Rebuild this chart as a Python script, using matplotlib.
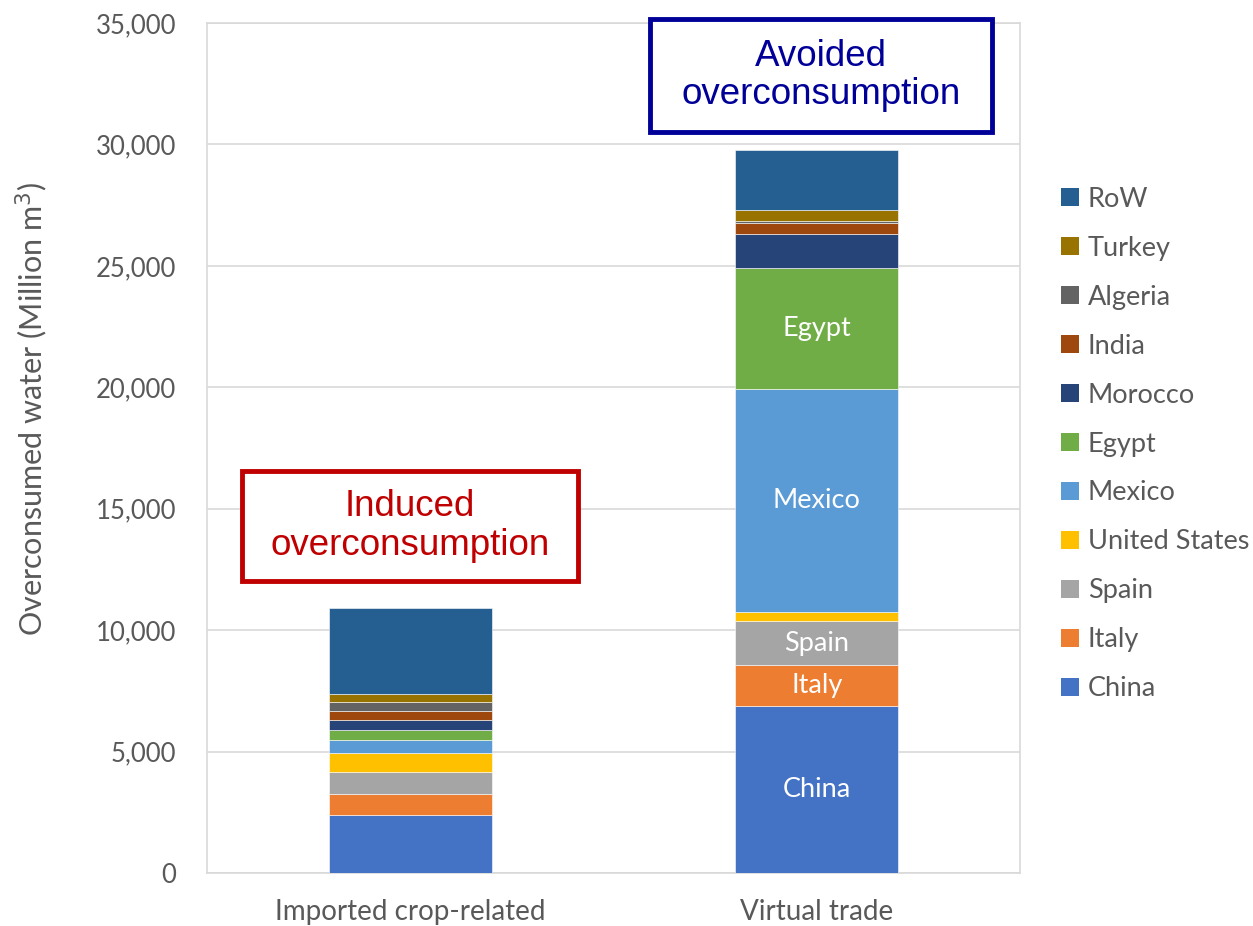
#!/usr/bin/env python3

import matplotlib
matplotlib.use("Agg")
import matplotlib.pyplot as plt
from matplotlib.patches import Patch, Rectangle
from matplotlib.ticker import FuncFormatter

plt.rcParams['font.family'] = ['Lato', 'DejaVu Sans']

# values (million m3)
bars = ['Imported crop-related', 'Virtual trade']
countries = ['China', 'Italy', 'Spain', 'United States', 'Mexico', 'Egypt',
             'Morocco', 'India', 'Algeria', 'Turkey', 'RoW']
imported = [2370, 890, 880, 800, 520, 440, 420, 370, 360, 340, 3540]
virtual = [6860, 1690, 1830, 360, 9180, 5010, 1380, 450, 80, 440, 2470]
colors = ['#4472C4', '#ED7D31', '#A5A5A5', '#FFC000', '#5B9BD5', '#70AD47',
          '#264478', '#9E480E', '#636363', '#997300', '#255E91']
inside_labels = ['China', 'Italy', 'Spain', 'Mexico', 'Egypt']

fig = plt.figure(figsize=(12.53, 9.26), dpi=100)
ax = fig.add_axes([0.1652, 0.0572, 0.6488, 0.918])

xpos = [0.5, 1.5]
bottom = [0, 0]
for i, c in enumerate(countries):
    vals = [imported[i], virtual[i]]
    ax.bar(xpos, vals, width=0.4, bottom=bottom, color=colors[i],
           edgecolor='white', linewidth=0.4, zorder=3)
    if c in inside_labels:
        ax.text(xpos[1], bottom[1] + vals[1] / 2, c, ha='center', va='center',
                color='white', fontsize=19.5, zorder=4)
    bottom = [bottom[0] + vals[0], bottom[1] + vals[1]]

ax.set_xlim(0, 2)
ax.set_ylim(0, 35000)
ax.set_yticks(range(0, 35001, 5000))
ax.yaxis.set_major_formatter(FuncFormatter(lambda v, p: f'{int(v):,}'))
ax.set_xticks(xpos)
ax.set_xticklabels(bars)
ax.tick_params(axis='both', length=0, colors='#595959')
ax.tick_params(axis='y', pad=22, labelsize=18.5)
ax.tick_params(axis='x', pad=19, labelsize=20)
ax.grid(axis='y', color='#D9D9D9', linewidth=1.2, zorder=0)
for s in ax.spines.values():
    s.set_color('#D9D9D9')
    s.set_linewidth(1.2)
ax.set_ylabel('Overconsumed water (Million m$^3$)', fontsize=22,
              color='#595959')
ax.yaxis.set_label_coords(-0.193, 0.546)

# annotation boxes (figure fractions)
notes = [
    ('Induced\noverconsumption', '#C00000', (0.1931, 0.3726, 0.2682, 0.1188)),
    ('Avoided\noverconsumption', '#000099', (0.5188, 0.8575, 0.2729, 0.1220)),
]
for txt, col, (x0, y0, w, h) in notes:
    fig.add_artist(Rectangle((x0, y0), w, h, transform=fig.transFigure,
                             fc='white', ec=col, lw=3.5, zorder=5))
    fig.text(x0 + w / 2, y0 + h / 2, txt, ha='center', va='center',
             fontsize=26.5, color=col, family='Liberation Sans',
             linespacing=1.12, zorder=6)

handles = [Patch(facecolor=colors[i], label=countries[i])
           for i in range(len(countries) - 1, -1, -1)]
fig.legend(handles=handles, loc='center left', bbox_to_anchor=(0.827, 0.5205),
           frameon=False, fontsize=19.5, labelcolor='#595959',
           handlelength=0.68, handleheight=0.68, handletextpad=0.33,
           labelspacing=0.885)

fig.savefig('out.png', dpi=100)
